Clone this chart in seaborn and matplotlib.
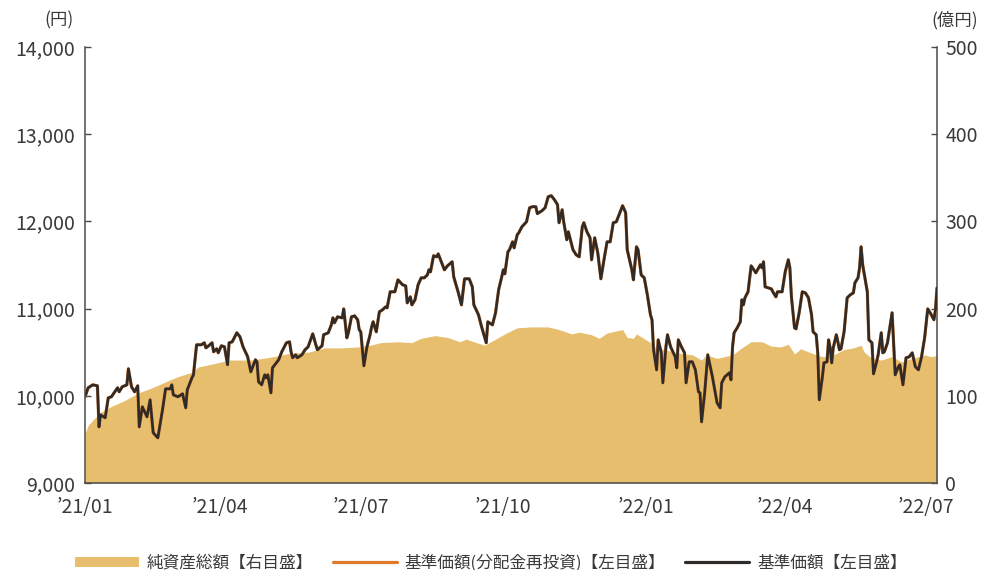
import numpy as np
import pandas as pd
import matplotlib
matplotlib.use('Agg')
import matplotlib.pyplot as plt
from matplotlib.patches import Patch
from matplotlib.lines import Line2D
import seaborn as sns

# 基準価額 (円), one line per month
price_dates = (
    ['2021-01-04', '2021-01-06', '2021-01-09', '2021-01-12', '2021-01-13', '2021-01-14', '2021-01-17', '2021-01-19', '2021-01-21', '2021-01-25', '2021-01-26', '2021-01-28', '2021-01-31'] +
    ['2021-02-01', '2021-02-03', '2021-02-05', '2021-02-07', '2021-02-08', '2021-02-10', '2021-02-13', '2021-02-15', '2021-02-17', '2021-02-20', '2021-02-23', '2021-02-25', '2021-02-28'] +
    ['2021-03-01', '2021-03-02', '2021-03-05', '2021-03-08', '2021-03-10', '2021-03-11', '2021-03-14', '2021-03-15', '2021-03-17', '2021-03-20', '2021-03-22', '2021-03-23', '2021-03-24', '2021-03-27', '2021-03-28', '2021-03-30', '2021-03-31'] +
    ['2021-04-02', '2021-04-04', '2021-04-06', '2021-04-07', '2021-04-09', '2021-04-12', '2021-04-14', '2021-04-16', '2021-04-19', '2021-04-21', '2021-04-24', '2021-04-25', '2021-04-26', '2021-04-28', '2021-04-30'] +
    ['2021-05-01', '2021-05-02', '2021-05-04', '2021-05-05', '2021-05-09', '2021-05-11', '2021-05-14', '2021-05-16', '2021-05-17', '2021-05-18', '2021-05-20', '2021-05-21', '2021-05-24', '2021-05-26', '2021-05-28', '2021-05-31'] +
    ['2021-06-02', '2021-06-03', '2021-06-06', '2021-06-07', '2021-06-10', '2021-06-12', '2021-06-13', '2021-06-14', '2021-06-16', '2021-06-19', '2021-06-20', '2021-06-22', '2021-06-23', '2021-06-25', '2021-06-27', '2021-06-29', '2021-06-30'] +
    ['2021-07-01', '2021-07-03', '2021-07-05', '2021-07-07', '2021-07-08', '2021-07-09', '2021-07-11', '2021-07-13', '2021-07-15', '2021-07-17', '2021-07-18', '2021-07-20', '2021-07-23', '2021-07-25', '2021-07-28', '2021-07-30', '2021-07-31'] +
    ['2021-08-02', '2021-08-03', '2021-08-05', '2021-08-07', '2021-08-09', '2021-08-11', '2021-08-13', '2021-08-14', '2021-08-15', '2021-08-17', '2021-08-19', '2021-08-20', '2021-08-22', '2021-08-24', '2021-08-26', '2021-08-29', '2021-08-30'] +
    ['2021-09-02', '2021-09-04', '2021-09-06', '2021-09-09', '2021-09-11', '2021-09-12', '2021-09-15', '2021-09-17', '2021-09-20', '2021-09-21', '2021-09-24', '2021-09-26', '2021-09-28', '2021-09-30'] +
    ['2021-10-01', '2021-10-02', '2021-10-04', '2021-10-05', '2021-10-07', '2021-10-08', '2021-10-10', '2021-10-11', '2021-10-13', '2021-10-16', '2021-10-18', '2021-10-20', '2021-10-22', '2021-10-23', '2021-10-26', '2021-10-28', '2021-10-30'] +
    ['2021-11-01', '2021-11-03', '2021-11-05', '2021-11-06', '2021-11-08', '2021-11-09', '2021-11-11', '2021-11-12', '2021-11-13', '2021-11-15', '2021-11-17', '2021-11-19', '2021-11-21', '2021-11-22', '2021-11-24', '2021-11-26', '2021-11-27', '2021-11-29'] +
    ['2021-12-01', '2021-12-03', '2021-12-05', '2021-12-07', '2021-12-09', '2021-12-11', '2021-12-13', '2021-12-17', '2021-12-19', '2021-12-20', '2021-12-23', '2021-12-24', '2021-12-26', '2021-12-27', '2021-12-29', '2021-12-31'] +
    ['2022-01-02', '2022-01-04', '2022-01-05', '2022-01-06', '2022-01-08', '2022-01-09', '2022-01-11', '2022-01-12', '2022-01-14', '2022-01-15', '2022-01-17', '2022-01-20', '2022-01-21', '2022-01-22', '2022-01-24', '2022-01-26', '2022-01-27', '2022-01-29', '2022-01-31'] +
    ['2022-02-02', '2022-02-04', '2022-02-05', '2022-02-06', '2022-02-08', '2022-02-10', '2022-02-12', '2022-02-13', '2022-02-16', '2022-02-18', '2022-02-19', '2022-02-21', '2022-02-24', '2022-02-25', '2022-02-26', '2022-02-27'] +
    ['2022-03-01', '2022-03-03', '2022-03-04', '2022-03-05', '2022-03-06', '2022-03-08', '2022-03-10', '2022-03-13', '2022-03-16', '2022-03-17', '2022-03-18', '2022-03-19', '2022-03-21', '2022-03-23', '2022-03-24', '2022-03-26', '2022-03-27', '2022-03-30'] +
    ['2022-04-01', '2022-04-03', '2022-04-04', '2022-04-05', '2022-04-07', '2022-04-08', '2022-04-10', '2022-04-12', '2022-04-14', '2022-04-16', '2022-04-18', '2022-04-19', '2022-04-21', '2022-04-22', '2022-04-23', '2022-04-25', '2022-04-26', '2022-04-28', '2022-04-29', '2022-04-30'] +
    ['2022-05-01', '2022-05-02', '2022-05-04', '2022-05-05', '2022-05-06', '2022-05-07', '2022-05-09', '2022-05-11', '2022-05-13', '2022-05-15', '2022-05-16', '2022-05-18', '2022-05-19', '2022-05-20', '2022-05-21', '2022-05-24', '2022-05-25', '2022-05-27', '2022-05-28', '2022-05-30', '2022-05-31'] +
    ['2022-06-02', '2022-06-03', '2022-06-04', '2022-06-06', '2022-06-09', '2022-06-11', '2022-06-13', '2022-06-14', '2022-06-16', '2022-06-18', '2022-06-20', '2022-06-22', '2022-06-24', '2022-06-26', '2022-06-28', '2022-06-30'] +
    ['2022-07-02', '2022-07-04', '2022-07-06', '2022-07-07', '2022-07-08']
)
price = (
    [9990, 10092, 10126, 10115, 9644, 9782, 9748, 9977, 9989, 10092, 10046, 10103, 10126] +
    [10310, 10103, 10046, 10115, 9644, 9874, 9759, 9954, 9576, 9518, 9839, 10080, 10080] +
    [10126, 10011, 9989, 10023, 9862, 10069, 10206, 10241, 10585, 10585, 10608, 10551, 10562, 10608, 10505, 10539, 10493] +
    [10574, 10562, 10356, 10608, 10619, 10723, 10677, 10562, 10447, 10275, 10413, 10390, 10161, 10126, 10241] +
    [10206, 10241, 10034, 10321, 10413, 10505, 10608, 10619, 10505, 10436, 10470, 10436, 10470, 10528, 10562, 10711] +
    [10585, 10528, 10574, 10700, 10723, 10814, 10894, 10837, 10906, 10894, 10997, 10665, 10723, 10906, 10917, 10872, 10757] +
    [10734, 10344, 10562, 10700, 10791, 10849, 10734, 10963, 10986, 11020, 11009, 11193, 11193, 11330, 11273, 11261, 11066] +
    [11135, 11043, 11101, 11273, 11353, 11353, 11387, 11445, 11422, 11606, 11594, 11628, 11537, 11445, 11491, 11537, 11365] +
    [11181, 11043, 11342, 11342, 11250, 11043, 10929, 10791, 10608, 10849, 10814, 10952, 11216, 11365] +
    [11445, 11399, 11652, 11675, 11766, 11697, 11847, 11870, 11938, 11996, 12157, 12169, 12169, 12089, 12123, 12157, 12283] +
    [12295, 12249, 12192, 11985, 12134, 11996, 11790, 11881, 11812, 11675, 11618, 11594, 11938, 11985, 11881, 11812, 11560, 11812] +
    [11640, 11342, 11560, 11766, 11766, 11985, 11996, 12180, 12100, 11675, 11445, 11330, 11709, 11675, 11387, 11353] +
    [11158, 10929, 10872, 10528, 10298, 10642, 10493, 10149, 10562, 10700, 10562, 10447, 10321, 10642, 10562, 10493, 10149, 10390, 10390] +
    [10298, 10046, 10034, 9701, 10034, 10470, 10298, 10218, 9920, 9862, 10149, 10218, 10264, 10183, 10562, 10723] +
    [10780, 10849, 11101, 11043, 11124, 11193, 11491, 11411, 11503, 11468, 11537, 11250, 11239, 11227, 11193, 11135, 11193, 11193] +
    [11422, 11560, 11468, 11135, 10780, 10768, 10952, 11193, 11181, 11124, 10929, 10734, 10700, 10493, 9954, 10218, 10378, 10390, 10642, 10551] +
    [10378, 10551, 10700, 10619, 10528, 10539, 10734, 11124, 11158, 11181, 11296, 11353, 11468, 11709, 11503, 11193, 10642, 10608, 10252, 10390, 10470] +
    [10723, 10493, 10505, 10608, 10952, 10241, 10333, 10356, 10126, 10436, 10447, 10493, 10333, 10298, 10447, 10665] +
    [10997, 10940, 10872, 10986, 11239]
)
# 基準価額(分配金再投資) sits exactly under 基準価額 (no distributions paid)
price_reinv = list(price)

# 純資産総額 (億円)
nav_dates = ['2021-01-04', '2021-01-06', '2021-01-09', '2021-01-14', '2021-01-20', '2021-01-30',
             '2021-02-07', '2021-02-16', '2021-02-25', '2021-03-05', '2021-03-14', '2021-03-18',
             '2021-03-31', '2021-04-07', '2021-04-22', '2021-05-06', '2021-05-17', '2021-05-28',
             '2021-06-08', '2021-06-19', '2021-06-29', '2021-07-07', '2021-07-14', '2021-07-25',
             '2021-08-03', '2021-08-09', '2021-08-18', '2021-08-26', '2021-09-03', '2021-09-07',
             '2021-09-12', '2021-09-19', '2021-09-25', '2021-10-02', '2021-10-10', '2021-10-19',
             '2021-10-30', '2021-11-06', '2021-11-14', '2021-11-19', '2021-11-27', '2021-12-02',
             '2021-12-07', '2021-12-17', '2021-12-20', '2021-12-24', '2021-12-26', '2022-01-04',
             '2022-01-07', '2022-01-13', '2022-01-22', '2022-01-31', '2022-02-06', '2022-02-09',
             '2022-02-16', '2022-02-26', '2022-03-04', '2022-03-10', '2022-03-17', '2022-03-23',
             '2022-03-29', '2022-04-03', '2022-04-07', '2022-04-11', '2022-04-18', '2022-04-25',
             '2022-05-01', '2022-05-09', '2022-05-15', '2022-05-20', '2022-05-22', '2022-05-27',
             '2022-06-02', '2022-06-09', '2022-06-15', '2022-06-22', '2022-06-30', '2022-07-04',
             '2022-07-08']
nav = [57, 66, 72, 81, 87, 95,
       103, 109, 116, 122, 127, 133,
       138, 141, 141, 145, 149, 150,
       155, 155, 156, 158, 161, 162,
       161, 166, 169, 167, 162, 165,
       162, 158, 164, 171, 178, 179,
       179, 176, 171, 173, 170, 166,
       172, 176, 167, 166, 171, 161,
       156, 153, 149, 147, 141, 147,
       143, 147, 155, 162, 162, 157,
       156, 159, 148, 154, 149, 145,
       146, 153, 155, 158, 150, 143,
       141, 145, 139, 143, 147, 145,
       146]

tick_dates = ['2021-01-04', '2021-04-01', '2021-07-01', '2021-10-01', '2022-01-01', '2022-04-01', '2022-07-01']
tick_labels = ['’21/01', '’21/04', '’21/07', '’21/10', '’22/01', '’22/04', '’22/07']

area_color = '#E7BE6D'
line_color = '#2E2B29'
reinv_color = '#E07A2B'
axis_color = '#4A4A4A'
text_color = '#3A3A3A'

df = pd.DataFrame({'date': pd.to_datetime(price_dates), 'price': price, 'reinv': price_reinv})
nav_df = pd.DataFrame({'date': pd.to_datetime(nav_dates), 'nav': nav})

sns.set_style('white')
plt.rcParams['font.family'] = ['Noto Sans CJK JP', 'DejaVu Sans']

fig = plt.figure(figsize=(9.82, 5.70), dpi=100)
ax = fig.add_axes([0.0866, 0.1526, 0.8676, 0.7649])
ax2 = ax.twinx()

# area on the right axis, lines on the left axis drawn on top
ax2.fill_between(nav_df['date'], 0, nav_df['nav'], color=area_color, lw=0)
ax.set_zorder(ax2.get_zorder() + 1)
ax.patch.set_visible(False)

sns.lineplot(data=df, x='date', y='reinv', ax=ax, color=reinv_color, lw=2.3)
sns.lineplot(data=df, x='date', y='price', ax=ax, color=line_color, lw=1.9)

ax.set_xlim(pd.Timestamp('2021-01-04'), pd.Timestamp('2022-07-08'))
ax.set_ylim(9000, 14000)
ax2.set_ylim(0, 500)
ax.set_yticks([9000, 10000, 11000, 12000, 13000, 14000])
ax.set_yticklabels(['9,000', '10,000', '11,000', '12,000', '13,000', '14,000'])
ax2.set_yticks([0, 100, 200, 300, 400, 500])
ax.set_xticks(pd.to_datetime(tick_dates))
ax.set_xticklabels(tick_labels)
ax.set_xlabel('')
ax.set_ylabel('')

for a in (ax, ax2):
    for side in ('left', 'right', 'bottom'):
        a.spines[side].set_color(axis_color)
        a.spines[side].set_linewidth(1.1)
    a.spines['top'].set_visible(False)
ax.spines['right'].set_visible(False)
ax2.spines['left'].set_visible(False)
ax2.spines['bottom'].set_visible(False)

ax.tick_params(axis='both', direction='in', length=4, width=1, color=axis_color,
               labelcolor=text_color, labelsize=14)
ax.tick_params(axis='y', pad=7)
ax.tick_params(axis='x', pad=10)
ax2.tick_params(axis='y', direction='in', length=4, width=1, color=axis_color,
                labelcolor=text_color, labelsize=14, pad=6)

fig.text(0.075, 0.965, '(円)', ha='right', va='center', fontsize=12.5, color=text_color)
fig.text(0.948, 0.965, '(億円)', ha='left', va='center', fontsize=12.5, color=text_color)

handles = [Patch(facecolor=area_color, edgecolor='none'),
           Line2D([], [], color=reinv_color, lw=2.3),
           Line2D([], [], color=line_color, lw=2.3)]
labels = ['純資産総額【右目盛】', '基準価額(分配金再投資)【左目盛】', '基準価額【左目盛】']
fig.legend(handles, labels, loc='center', bbox_to_anchor=(0.5, 0.012), ncol=3, frameon=False,
           fontsize=12, handlelength=3.8, handleheight=0.55, handletextpad=0.5, columnspacing=1.2,
           labelcolor=text_color)

fig.savefig('out.png', dpi=100)
